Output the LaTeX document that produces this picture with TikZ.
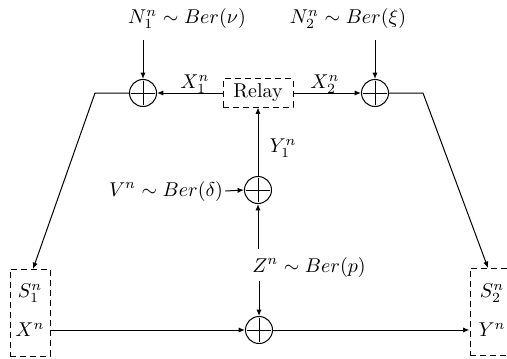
\documentclass[tikz,border=0pt]{standalone}
\usetikzlibrary{arrows.meta}
\begin{document}
\begin{tikzpicture}[x=0.5pt,y=-0.5pt,line width=0.5pt,
  sumnode/.style={circle,draw,minimum size=13.5pt,inner sep=0pt,
    path picture={\draw ([yshift=-0.6pt]path picture bounding box.north) -- ([yshift=0.6pt]path picture bounding box.south)
      ([xshift=0.6pt]path picture bounding box.west) -- ([xshift=-0.6pt]path picture bounding box.east);}},
  arr/.style={-{Latex[length=3.2pt,width=2.6pt]}},
  dbox/.style={draw,dash pattern=on 3pt off 2pt,inner sep=0pt},
  lbl/.style={inner sep=1pt}]
\useasboundingbox (0,0) rectangle (507,358);
\clip (0,0) rectangle (507,358);

% adders
\node[sumnode] (p1) at (143,93) {};
\node[sumnode] (p2) at (375,93) {};
\node[sumnode] (p3) at (258,190) {};
\node[sumnode] (p4) at (259,330) {};

% relay
\node[dbox, minimum width=35pt, minimum height=14pt] (relay) at (258,93) {Relay};

% terminal boxes
\node[dbox, minimum width=20pt, minimum height=43.5pt] (b1) at (30,312.5) {};
\node[lbl] (s1) at (30,293) {$S_1^n$};
\node[lbl] (xn) at (30,330) {$X^n$};
\node[dbox, minimum width=22.5pt, minimum height=43.5pt] (b2) at (492.5,311.5) {};
\node[lbl] (s2) at (492,293) {$S_2^n$};
\node[lbl] (yn) at (492,330) {$Y^n$};

% labels
\node[lbl] (n1) at (187,19) {$N_1^n \sim Ber(\nu)$};
\node[lbl] (n2) at (348,19) {$N_2^n \sim Ber(\xi)$};
\node[lbl] (x1l) at (195,84) {$X_1^n$};
\node[lbl] (x2l) at (325,84) {$X_2^n$};
\node[lbl] (y1l) at (283,148) {$Y_1^n$};
\node[lbl] (vl) at (166,191) {$V^n \sim Ber(\delta)$};
\node[lbl] (zl) at (309,267) {$Z^n \sim Ber(p)$};

% free ends
\coordinate (a1) at (143,40);
\coordinate (a2) at (375,40);
\coordinate (za) at (258,249);
\coordinate (zb) at (259,281);
\coordinate (c1) at (95,93);
\coordinate (e1) at (33,269);
\coordinate (c2) at (423,93);
\coordinate (e2) at (488,268);

% connectors
\draw[arr] (a1) -- (p1);
\draw[arr] (a2) -- (p2);
\draw[arr] (relay.west) -- (p1.east);
\draw[arr] (relay.east) -- (p2.west);
\draw[arr] (p3) -- (relay);
\draw[arr] (vl.east) -- (p3.west);
\draw[arr] (za) -- (p3);
\draw[arr] (zb) -- (p4);
\draw[arr] (p1.west) -- (c1) -- (e1);
\draw[arr] (p2.east) -- (c2) -- (e2);
\draw[arr] (b1.east |- xn) -- (p4.west);
\draw[arr] (p4.east) -- (b2.west |- yn);
\end{tikzpicture}
\end{document}
